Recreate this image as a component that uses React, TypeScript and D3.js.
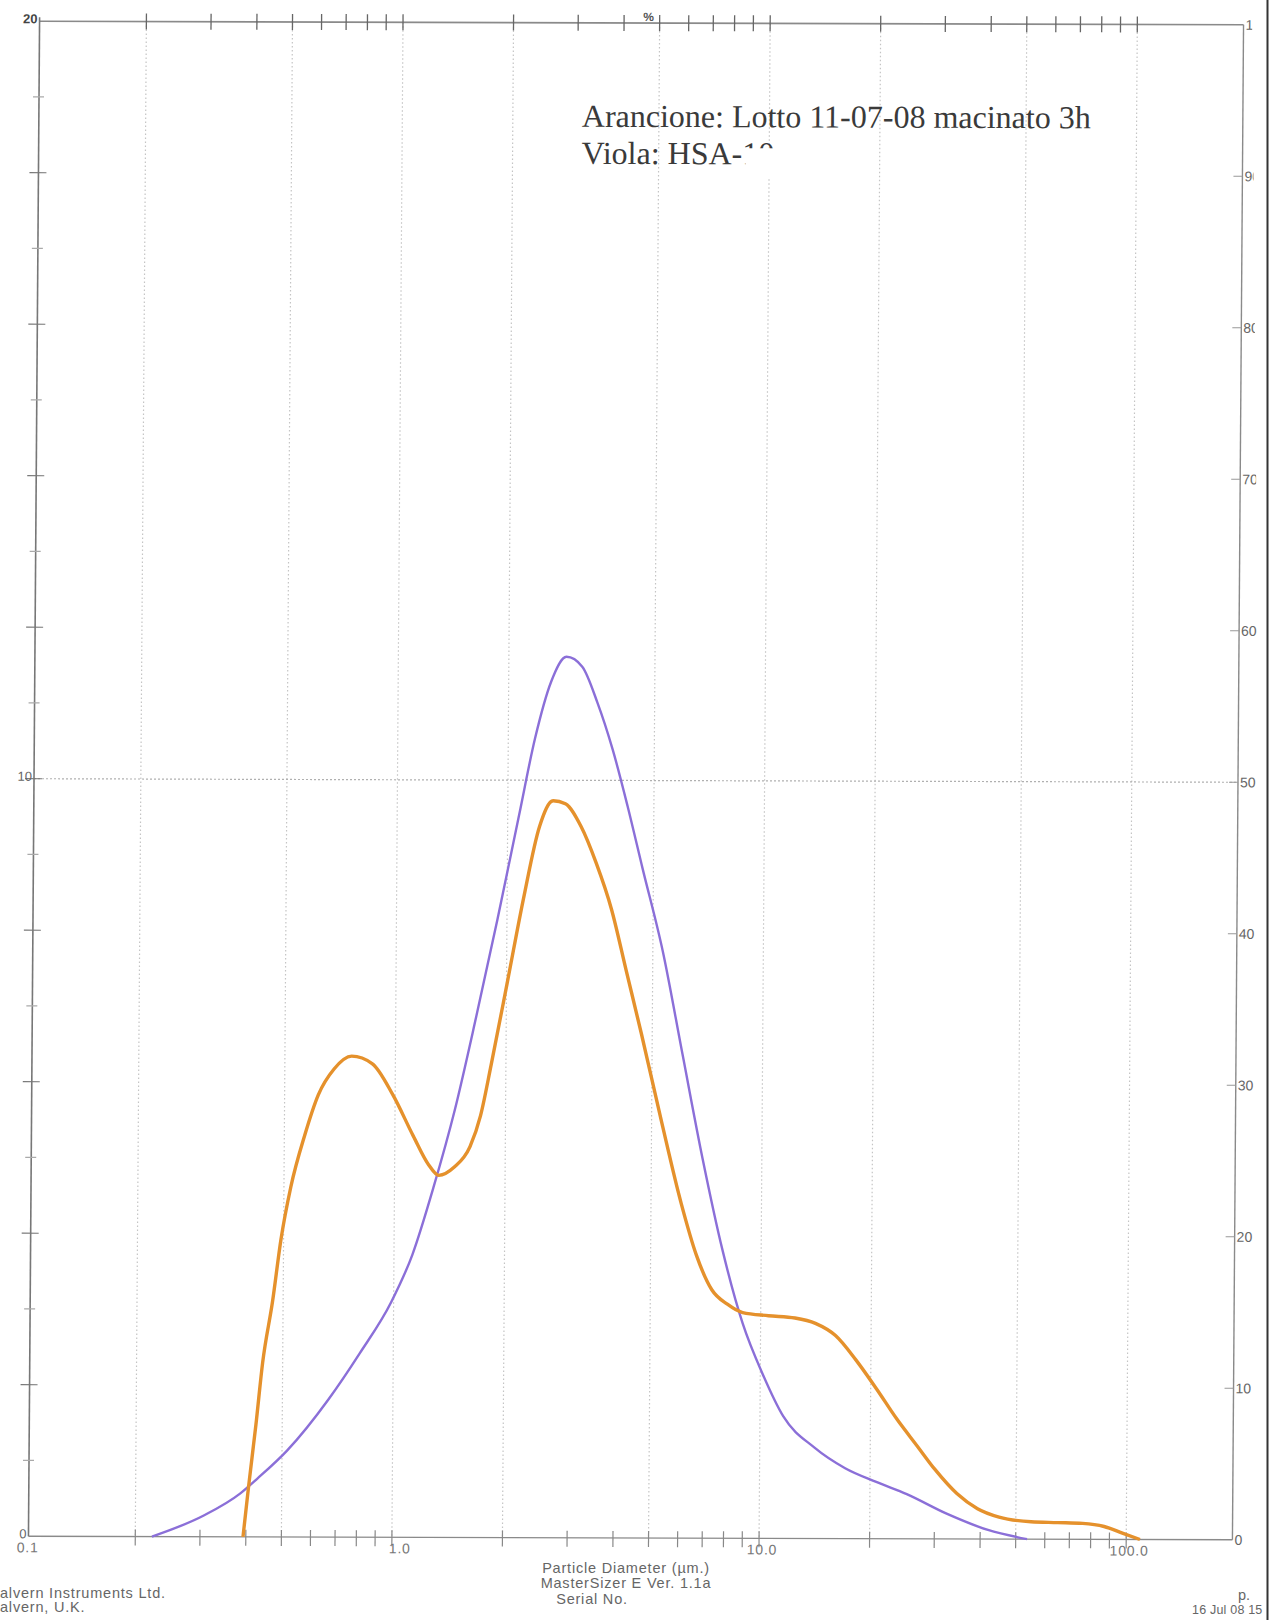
import React from "react";
import * as d3 from "d3";

// particle size distribution, volume % per size band
const orangeDiameter = [0.393, 0.406, 0.424, 0.441, 0.468, 0.492, 0.522, 0.568, 0.618, 0.681, 0.76, 0.866, 0.986, 1.122, 1.237, 1.319, 1.454, 1.603, 1.71, 1.825, 2.012, 2.217, 2.443, 2.658, 2.87, 3.17, 3.49, 3.85, 4.24, 4.67, 5.32, 6.05, 6.67, 7.35, 8.11, 8.93, 10.5, 12.4, 14.1, 16.0, 18.2, 20.8, 23.6, 26.9, 30.0, 34.5, 39.3, 45, 55, 65, 76, 87, 98, 109];
const orangeVolume = [0, 0.66, 1.48, 2.3, 3.11, 3.93, 4.62, 5.3, 5.84, 6.18, 6.35, 6.25, 5.84, 5.3, 4.92, 4.78, 4.89, 5.16, 5.57, 6.25, 7.34, 8.44, 9.39, 9.73, 9.69, 9.39, 8.91, 8.3, 7.48, 6.66, 5.5, 4.41, 3.73, 3.28, 3.09, 2.98, 2.94, 2.91, 2.84, 2.68, 2.36, 1.97, 1.58, 1.22, 0.92, 0.6, 0.4, 0.29, 0.23, 0.22, 0.21, 0.17, 0.08, 0];

const violetDiameter = [0.222, 0.307, 0.385, 0.429, 0.516, 0.668, 0.811, 0.986, 1.122, 1.277, 1.454, 1.656, 1.884, 2.146, 2.365, 2.61, 2.87, 3.17, 3.49, 3.85, 4.24, 4.67, 5.32, 6.05, 6.89, 7.85, 8.93, 10.17, 11.58, 14.1, 17.1, 20.8, 25.2, 32.5, 42, 53.7];
const violetVolume = [0, 0.28, 0.57, 0.77, 1.14, 1.82, 2.43, 3.11, 3.73, 4.62, 5.64, 6.87, 8.16, 9.53, 10.55, 11.3, 11.63, 11.5, 11.03, 10.41, 9.66, 8.84, 7.75, 6.39, 5.02, 3.8, 2.84, 2.16, 1.61, 1.2, 0.93, 0.75, 0.59, 0.33, 0.12, 0];

const xLabelValues = [0.1, 1, 10, 100];
const xLabelTexts = ["0.1", "1.0", "10.0", "100.0"];
const gridDiameters = [0.2, 0.5, 1, 2, 5, 10, 20, 50, 100];
const leftLabels = [0, 10, 20];
const rightLabels = [0, 10, 20, 30, 40, 50, 60, 70, 80, 90, 100];

const W = 1270;
const H = 1620;
const frameLeft = 34;
const frameRight = 1238;
const frameTop = 23;
const frameBottom = 1538;

const x = d3.scaleLog().domain([0.1, 200]).range([30.3, 1242.3]);
const y = d3.scaleLinear().domain([0, 20]).range([frameBottom, frameTop]);
const yCum = d3.scaleLinear().domain([0, 100]).range([frameBottom, frameTop]);

const sans = "'Liberation Sans', Arial, sans-serif";
const serif = "'Liberation Serif', 'Times New Roman', serif";
const axisCol = "#8a8a8a";
const textCol = "#666";

// the scan is slightly sheared
const scanWarp = "translate(640 780) skewX(-0.42) skewY(0.17) translate(-640 -780)";

function curve(diam: number[], vol: number[]) {
  const line = d3
    .line<number>()
    .x((d, i) => x(diam[i]))
    .y((d) => y(d))
    .curve(d3.curveMonotoneX);
  return line(vol) || "";
}

export default function App() {
  const logTicks = x.ticks().filter((t) => t > 0.1 && t < 200);
  const leftTicks = d3.range(1, 20);

  return (
    <div style={{ position: "absolute", left: 0, top: 0 }}>
      <svg width={W} height={H} style={{ display: "block", background: "#fff" }}>
        <defs>
          <clipPath id="page">
            <polygon points={`0,0 1252,0 1266,${H} 0,${H}`} />
          </clipPath>
        </defs>
        <g clipPath="url(#page)">
          <g transform={scanWarp}>
            {/* dotted grid */}
            {gridDiameters.map((d) => (
              <line key={"g" + d} x1={x(d)} x2={x(d)} y1={frameTop} y2={frameBottom}
                stroke="#c4c4c4" strokeWidth={1.2} strokeDasharray="1.5 2.5" />
            ))}
            <line x1={frameLeft} x2={frameRight} y1={y(10)} y2={y(10)}
              stroke="#b0b0b0" strokeWidth={1.2} strokeDasharray="2 2" />

            {/* frame */}
            <line x1={frameLeft} x2={frameRight} y1={frameTop} y2={frameTop} stroke={axisCol} strokeWidth={1.6} />
            <line x1={frameLeft} x2={frameRight} y1={frameBottom} y2={frameBottom} stroke={axisCol} strokeWidth={1.4} />
            <line x1={frameLeft} x2={frameLeft} y1={frameTop - 4} y2={frameBottom} stroke="#777" strokeWidth={1.6} />
            <line x1={frameRight} x2={frameRight} y1={frameTop} y2={frameBottom} stroke={axisCol} strokeWidth={1.4} />

            {/* log ticks top and bottom */}
            {logTicks.map((t) => (
              <g key={"t" + t}>
                <line x1={x(t)} x2={x(t)} y1={frameTop - 8} y2={frameTop + 8} stroke="#666" strokeWidth={1.3} />
                <line x1={x(t)} x2={x(t)} y1={frameBottom - 7} y2={frameBottom + 9} stroke="#888" strokeWidth={1.2} />
              </g>
            ))}

            {/* left % ticks */}
            {leftTicks.map((v) => (
              <line key={"l" + v} x1={frameLeft - (v % 2 === 0 ? 9 : 6)} x2={frameLeft + (v % 2 === 0 ? 8 : 5)}
                y1={y(v)} y2={y(v)} stroke={v % 2 === 0 ? "#777" : "#aaa"} strokeWidth={1.2} />
            ))}
            {leftLabels.map((v) => (
              <text key={"ll" + v} x={frameLeft - 2} y={y(v) + 2} textAnchor="end"
                fontFamily={sans} fontSize={13} fontWeight={v === 20 ? 700 : 400} fill={v === 20 ? "#444" : textCol}>
                {v}
              </text>
            ))}

            {/* right cumulative ticks */}
            {rightLabels.map((v) => (
              <g key={"r" + v}>
                {v > 0 && v < 100 && (
                  <line x1={frameRight - 9} x2={frameRight} y1={yCum(v)} y2={yCum(v)} stroke="#999" strokeWidth={1.2} />
                )}
                <text x={frameRight + 2} y={yCum(v) + 5} fontFamily={sans} fontSize={14} fill={textCol}>
                  {v}
                </text>
              </g>
            ))}

            {/* x labels */}
            {xLabelValues.map((v, i) => (
              <text key={"x" + v} x={x(v) + (i === 1 ? 8 : 3)} y={frameBottom + 16} textAnchor="middle"
                fontFamily={sans} fontSize={14} letterSpacing={0.8} fill="#777">
                {xLabelTexts[i]}
              </text>
            ))}
            <text x={643} y={21} textAnchor="middle" fontFamily={sans} fontSize={12} fontWeight={700} fill="#555">%</text>

            {/* series */}
            <path d={curve(violetDiameter, violetVolume)} fill="none" stroke="#8b6fd8" strokeWidth={2.4} strokeLinejoin="round" />
            <path d={curve(orangeDiameter, orangeVolume)} fill="none" stroke="#e5912c" strokeWidth={3.4} strokeLinejoin="round" />

            {/* annotation */}
            <text x={577} y={127} fontFamily={serif} fontSize={32} fill="#3a3a3a">
              Arancione: Lotto 11-07-08 macinato 3h
            </text>
            <text x={577} y={164} fontFamily={serif} fontSize={32} fill="#3a3a3a">
              Viola: HSA-10
            </text>
            <rect x={741} y={148} width={70} height={30} fill="#fff" />
          </g>

          {/* footer */}
          <g fontFamily={sans} fontSize={14.5} letterSpacing={0.8} fill={textCol}>
            <text x={0} y={1598}>alvern Instruments Ltd.</text>
            <text x={0} y={1612}>alvern, U.K.</text>
            <text x={626} y={1573} textAnchor="middle">Particle Diameter (µm.)</text>
            <text x={626} y={1588} textAnchor="middle">MasterSizer E Ver. 1.1a</text>
            <text x={592} y={1604} textAnchor="middle">Serial No.</text>
            <text x={1238} y={1600} letterSpacing={0}>p.</text>
            <text x={1192} y={1614} fontSize={12.5} letterSpacing={0.2}>16 Jul 08 15</text>
          </g>
        </g>
        <line x1={1267.5} x2={1267.5} y1={0} y2={H} stroke="#333" strokeWidth={2} />
      </svg>
    </div>
  );
}
